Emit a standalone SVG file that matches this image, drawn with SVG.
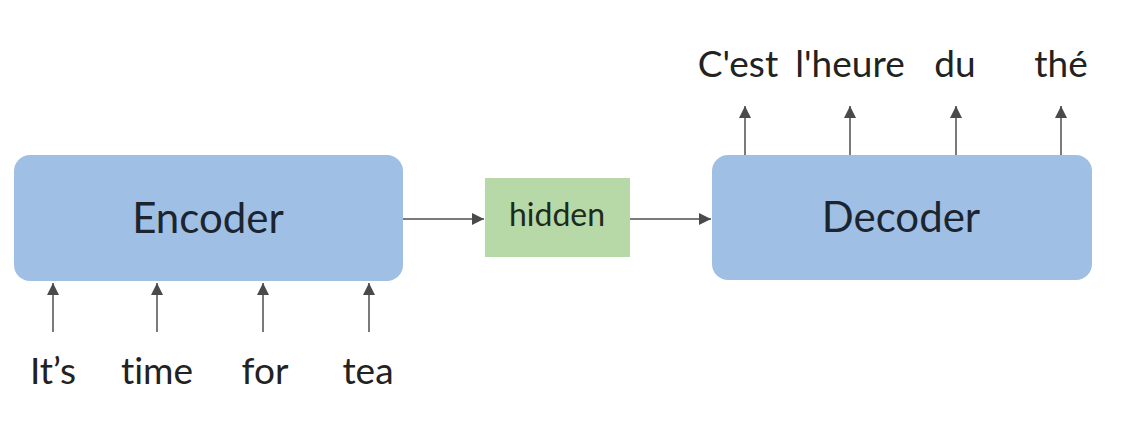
<svg xmlns="http://www.w3.org/2000/svg" width="1143" height="428" viewBox="0 0 1143 428">
<style>
text{font-variant-ligatures:none;}
.box{fill:#9fc0e4;}
.hid{fill:#b7d9a7;}
.big{font-family:Lato,"Open Sans",sans-serif;font-size:42px;fill:#1c2430;text-anchor:middle;}
.word{font-family:Lato,"Open Sans",sans-serif;font-size:37px;fill:#222;text-anchor:middle;}
.hw{font-family:Lato,"Open Sans",sans-serif;font-size:32px;fill:#1f2a1f;text-anchor:middle;}
.ar{stroke:#7a7a7a;stroke-width:2;fill:none;marker-end:url(#ah);}
</style>
<defs>
<marker id="ah" viewBox="0 0 10 10" refX="10" refY="5" markerWidth="6" markerHeight="6" markerUnits="strokeWidth" orient="auto">
<path d="M0,0 L10,5 L0,10 z" fill="#4a4a4a"/>
</marker>
</defs>
<rect width="1143" height="428" fill="#ffffff"/>
<g id="encoder">
<rect class="box" x="14" y="155" width="389" height="126" rx="16"/>
<text class="big" x="208" y="233">Encoder</text>
</g>
<g id="hidden">
<rect class="hid" x="485" y="178" width="145" height="79"/>
<text class="hw" x="557" y="226">hidden</text>
</g>
<g id="decoder">
<rect class="box" x="712" y="155" width="380" height="125" rx="16"/>
<text class="big" x="901" y="232">Decoder</text>
</g>
<g id="inputs">
<text class="word" x="53" y="384">It’s</text>
<text class="word" x="157" y="384">time</text>
<text class="word" x="265" y="384">for</text>
<text class="word" x="368" y="384">tea</text>
</g>
<g id="outputs">
<text class="word" x="738" y="77">C'est</text>
<text class="word" x="850" y="77">l'heure</text>
<text class="word" x="955" y="77">du</text>
<text class="word" x="1061" y="77">thé</text>
</g>
<g id="connectors">
<line class="ar" x1="53" y1="332" x2="53" y2="283"/>
<line class="ar" x1="157" y1="332" x2="157" y2="283"/>
<line class="ar" x1="263" y1="332" x2="263" y2="283"/>
<line class="ar" x1="369" y1="332" x2="369" y2="283"/>
<line class="ar" x1="403" y1="219" x2="484" y2="219"/>
<line class="ar" x1="630" y1="219" x2="711" y2="219"/>
<line class="ar" x1="745" y1="155" x2="745" y2="106"/>
<line class="ar" x1="850" y1="155" x2="850" y2="106"/>
<line class="ar" x1="956" y1="155" x2="956" y2="106"/>
<line class="ar" x1="1061" y1="155" x2="1061" y2="106"/>
</g>
</svg>
